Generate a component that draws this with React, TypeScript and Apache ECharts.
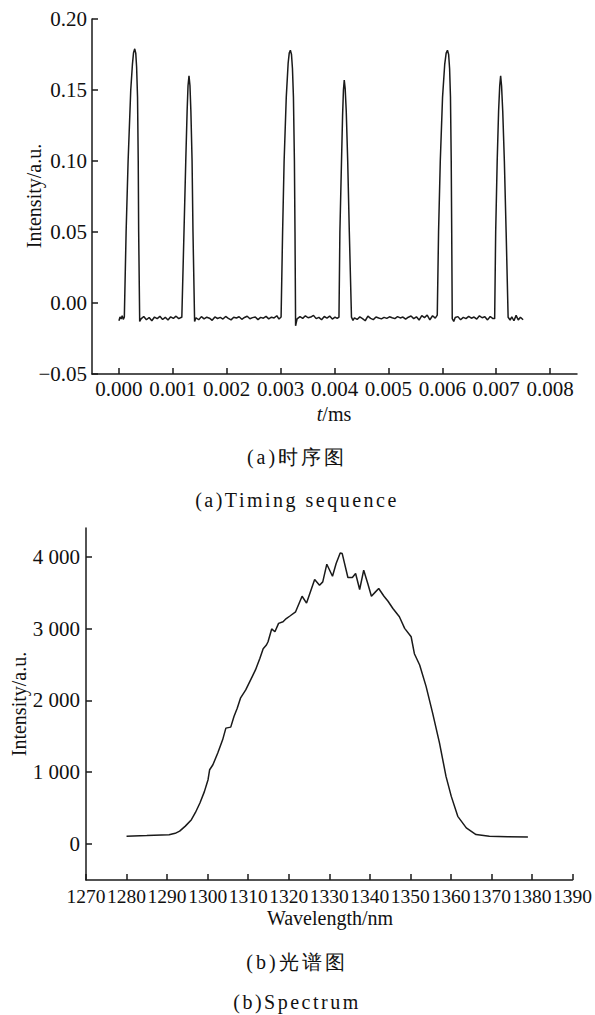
import React, { useEffect, useRef } from 'react';
import * as echarts from 'echarts';

// ---------- (a) Timing sequence: [t (ms), intensity (a.u.)] ----------
const base0 = [[0, -0.0125], [0.00002, -0.0098], [0.00004, -0.0112], [0.00006, -0.009], [0.00008, -0.0115]];
const pulse1 = [[0.0001, -0.01], [0.000133, 0.05], [0.00017, 0.1], [0.000219, 0.15], [0.00025, 0.168], [0.00027, 0.176], [0.000293, 0.179], [0.000312, 0.176], [0.000328, 0.166], [0.000345, 0.145], [0.000358, 0.1], [0.000366, 0.05], [0.000385, -0.013]];
const base1 = [[0.00041, -0.0112], [0.00046, -0.0095], [0.00051, -0.0118], [0.00056, -0.0102], [0.00061, -0.0125], [0.00066, -0.0099], [0.00071, -0.011], [0.00076, -0.0094], [0.00081, -0.0116], [0.00086, -0.0101], [0.00091, -0.012], [0.00096, -0.0097], [0.00101, -0.0108], [0.00106, -0.0093], [0.00111, -0.011], [0.00115, -0.0102]];
const pulse2 = [[0.001167, -0.01], [0.001207, 0.05], [0.00124, 0.1], [0.001265, 0.135], [0.001282, 0.153], [0.0013, 0.16], [0.001318, 0.153], [0.001335, 0.135], [0.001357, 0.1], [0.001374, 0.05], [0.001404, -0.013]];
const base2 = [[0.00143, -0.0104], [0.00148, -0.0118], [0.00153, -0.0096], [0.00158, -0.0112], [0.00163, -0.01], [0.00168, -0.0107], [0.00173, -0.0122], [0.00178, -0.0098], [0.00183, -0.0109], [0.00188, -0.0101], [0.00193, -0.0113], [0.00198, -0.0095], [0.00203, -0.0108], [0.00208, -0.0119], [0.00213, -0.01], [0.00218, -0.0106], [0.00223, -0.0097], [0.00228, -0.0115], [0.00233, -0.0102], [0.00238, -0.0093], [0.00243, -0.0111], [0.00248, -0.0103], [0.00253, -0.0098], [0.00258, -0.0117], [0.00263, -0.0101], [0.00268, -0.0107], [0.00273, -0.0094], [0.00278, -0.0112], [0.00283, -0.01], [0.00288, -0.0105], [0.00293, -0.009], [0.00297, -0.0113]];
const pulse3 = [[0.003009, -0.0098], [0.003037, 0.05], [0.003065, 0.1], [0.003105, 0.145], [0.00314, 0.169], [0.00316, 0.176], [0.003181, 0.178], [0.003202, 0.175], [0.00322, 0.165], [0.003238, 0.145], [0.003256, 0.1], [0.003267, 0.05], [0.003278, -0.016]];
const base3 = [[0.003306, -0.0112], [0.00336, -0.0096], [0.00341, -0.0108], [0.00346, -0.009], [0.00351, -0.0104], [0.00356, -0.0099], [0.00361, -0.0087], [0.00366, -0.011], [0.00371, -0.0101], [0.00376, -0.0118], [0.00381, -0.0095], [0.00386, -0.0106], [0.00391, -0.0092], [0.00396, -0.0113], [0.00401, -0.01], [0.00405, -0.0108]];
const pulse4 = [[0.004083, -0.01], [0.0041, 0.05], [0.00413, 0.1], [0.00415, 0.132], [0.004166, 0.15], [0.004181, 0.157], [0.004198, 0.151], [0.004218, 0.135], [0.004245, 0.1], [0.004275, 0.05], [0.004315, -0.01], [0.004343, -0.0122]];
const base4 = [[0.00437, -0.0105], [0.00442, -0.0116], [0.00447, -0.0098], [0.00452, -0.011], [0.00457, -0.0125], [0.00462, -0.0093], [0.00467, -0.0108], [0.00472, -0.0117], [0.00477, -0.0099], [0.00482, -0.0106], [0.00487, -0.0112], [0.00492, -0.0101], [0.00497, -0.0108], [0.00502, -0.0097], [0.00507, -0.0104], [0.00512, -0.011], [0.00517, -0.0096], [0.00522, -0.0105], [0.00527, -0.0099], [0.00532, -0.0114], [0.00537, -0.01], [0.00542, -0.0092], [0.00547, -0.011], [0.00552, -0.0097], [0.00557, -0.012], [0.00562, -0.0089], [0.00567, -0.0103], [0.00572, -0.0085], [0.00577, -0.0118], [0.00582, -0.009], [0.00587, -0.0106]];
const pulse5 = [[0.005907, -0.0085], [0.005931, 0.05], [0.005963, 0.1], [0.006005, 0.145], [0.006045, 0.168], [0.006072, 0.176], [0.006096, 0.178], [0.006118, 0.175], [0.006136, 0.165], [0.006152, 0.145], [0.006166, 0.1], [0.006175, 0.05], [0.006185, -0.011], [0.006213, -0.013]];
const base5 = [[0.00624, -0.0102], [0.00629, -0.0096], [0.00634, -0.0118], [0.00639, -0.0101], [0.00644, -0.011], [0.00649, -0.0094], [0.00654, -0.0107], [0.00659, -0.0099], [0.00664, -0.0113], [0.00669, -0.009], [0.00674, -0.0104], [0.00679, -0.0097], [0.00684, -0.0119], [0.00689, -0.0095], [0.00694, -0.011]];
const pulse6 = [[0.006972, -0.011], [0.006991, 0.05], [0.007019, 0.1], [0.007045, 0.135], [0.007066, 0.153], [0.007083, 0.16], [0.0071, 0.153], [0.007122, 0.135], [0.007152, 0.1], [0.007185, 0.05], [0.007222, -0.01], [0.007259, -0.012]];
const base6 = [[0.00729, -0.0098], [0.00733, -0.0125], [0.00737, -0.0087], [0.00741, -0.012], [0.00745, -0.01], [0.0075, -0.0118]];

const timeTicks = [0, 0.001, 0.002, 0.003, 0.004, 0.005, 0.006, 0.007, 0.008];

// ---------- (b) Spectrum ----------
const wavelengthNm = [1280, 1285, 1290.5, 1292, 1293.1, 1294.5, 1296, 1297, 1298.1, 1299.2, 1300.1, 1300.5, 1301.3, 1302.5, 1303.7, 1304.5, 1305.7, 1306.5, 1307.3, 1308.1, 1309.4, 1311.0, 1311.8, 1312.9, 1313.7, 1314.5, 1314.9, 1315.8, 1316.6, 1317.5, 1318.6, 1319.4, 1320.3, 1321.7, 1323.3, 1324.4, 1326.4, 1327.6, 1328.4, 1329.4, 1330.8, 1331.7, 1332.7, 1333.2, 1334.6, 1335.7, 1336.5, 1337.5, 1338.5, 1339.5, 1340.4, 1341.4, 1342.2, 1343.5, 1344.5, 1345.7, 1347.3, 1348.6, 1350.2, 1351.0, 1352.3, 1353.9, 1355.5, 1357.2, 1358.8, 1360.1, 1361.7, 1363.8, 1366.2, 1369.5, 1374, 1379];
const spectrumIntensity = [110, 118, 130, 150, 180, 250, 340, 440, 572, 730, 896, 1035, 1104, 1267, 1451, 1614, 1628, 1775, 1892, 2031, 2146, 2331, 2424, 2586, 2720, 2771, 2817, 2995, 2956, 3072, 3095, 3140, 3175, 3233, 3450, 3355, 3683, 3604, 3650, 3896, 3729, 3905, 4053, 4044, 3711, 3711, 3767, 3544, 3813, 3628, 3451, 3511, 3558, 3450, 3380, 3280, 3164, 3003, 2886, 2650, 2493, 2192, 1822, 1406, 942, 664, 386, 225, 132, 108, 102, 100];
const intensityTicks = [0, 1000, 2000, 3000, 4000];

const captionTexts = ['(a)时序图', '(a)Timing sequence', '(b)光谱图', '(b)Spectrum'];

const FONT = 'Liberation Serif, serif';
const INK = '#1a1a1a';

export default function App() {
  const ref = useRef<HTMLDivElement>(null);
  useEffect(() => {
    if (!ref.current) return;
    const chart = echarts.init(ref.current, undefined, { renderer: 'svg' });
    const timing = [...base0, ...pulse1, ...base1, ...pulse2, ...base2, ...pulse3, ...base3, ...pulse4, ...base4, ...pulse5, ...base5, ...pulse6, ...base6];
    const spectrum = wavelengthNm.map((w, i) => [w, spectrumIntensity[i]]);

    const axisCommon = {
      axisLine: { show: true, onZero: false, lineStyle: { color: INK, width: 1.5 } },
      axisTick: { show: true, inside: true, length: 6, lineStyle: { color: INK, width: 1.5 } },
      splitLine: { show: false },
    };
    const labelStyle = { color: '#111', fontFamily: FONT, fontSize: 21 };
    const txt = (x: number, y: number, text: string, size: number, extra: any = {}) => ({
      type: 'text', x, y, ...extra,
      style: { text, fontFamily: FONT, fontSize: size, fill: '#111', align: 'center', verticalAlign: 'middle', ...(extra.style || {}) },
    });

    chart.setOption({
      animation: false,
      backgroundColor: '#fff',
      textStyle: { fontFamily: FONT },
      grid: [
        { left: 92, top: 19, width: 485, height: 355 },
        { left: 86, top: 528, width: 487, height: 352 },
      ],
      xAxis: [
        {
          gridIndex: 0, type: 'value', min: -0.0005, max: 0.0085,
          ...axisCommon,
          axisTick: { ...axisCommon.axisTick, customValues: timeTicks },
          axisLabel: { ...labelStyle, margin: 4, customValues: timeTicks, formatter: (v: number) => v.toFixed(3) },
        },
        {
          gridIndex: 1, type: 'value', min: 1270, max: 1390, interval: 10,
          ...axisCommon,
          axisLabel: { ...labelStyle, fontSize: 19.5, margin: 6, formatter: (v: number) => String(Math.round(v)) },
        },
      ],
      yAxis: [
        {
          gridIndex: 0, type: 'value', min: -0.05, max: 0.2, interval: 0.05,
          ...axisCommon,
          axisLabel: { ...labelStyle, margin: 5, formatter: (v: number) => (v < -1e-9 ? '\u2212' : '') + Math.abs(v).toFixed(2) },
        },
        {
          gridIndex: 1, type: 'value', min: -500, max: 4400,
          ...axisCommon,
          axisTick: { ...axisCommon.axisTick, customValues: intensityTicks },
          axisLabel: {
            ...labelStyle, margin: 6, customValues: intensityTicks,
            formatter: (v: number) => (v >= 1000 ? `${Math.floor(v / 1000)} ${String(v % 1000).padStart(3, '0')}` : String(v)),
          },
        },
      ],
      series: [
        { type: 'line', xAxisIndex: 0, yAxisIndex: 0, data: timing, showSymbol: false, lineStyle: { color: INK, width: 1.5 } },
        { type: 'line', xAxisIndex: 1, yAxisIndex: 1, data: spectrum, showSymbol: false, lineStyle: { color: INK, width: 1.5 } },
      ],
      graphic: [
        txt(34, 196, 'Intensity/a.u.', 20, { rotation: Math.PI / 2 }),
        txt(19, 704, 'Intensity/a.u.', 20, { rotation: Math.PI / 2 }),
        txt(334, 414, '{i|t}/ms', 20, { style: { rich: { i: { fontStyle: 'italic', fontFamily: FONT, fontSize: 20 } } } }),
        txt(330, 918, 'Wavelength/nm', 20),
        txt(297, 457, captionTexts[0], 20),
        txt(297, 500, captionTexts[1], 20),
        txt(297, 962, captionTexts[2], 20),
        txt(297, 1002, captionTexts[3], 20),
      ],
    });

    // captions in the reference are letter-spaced
    ref.current.querySelectorAll('text').forEach((el) => {
      const t = el.textContent || '';
      if (t === captionTexts[0] || t === captionTexts[2]) el.setAttribute('letter-spacing', '3');
      else if (t === captionTexts[1] || t === captionTexts[3]) el.setAttribute('letter-spacing', '2.5');
    });
    return () => chart.dispose();
  }, []);
  return <div ref={ref} style={{ position: 'absolute', left: 0, top: 0, width: 595, height: 1015, background: '#fff' }} />;
}
